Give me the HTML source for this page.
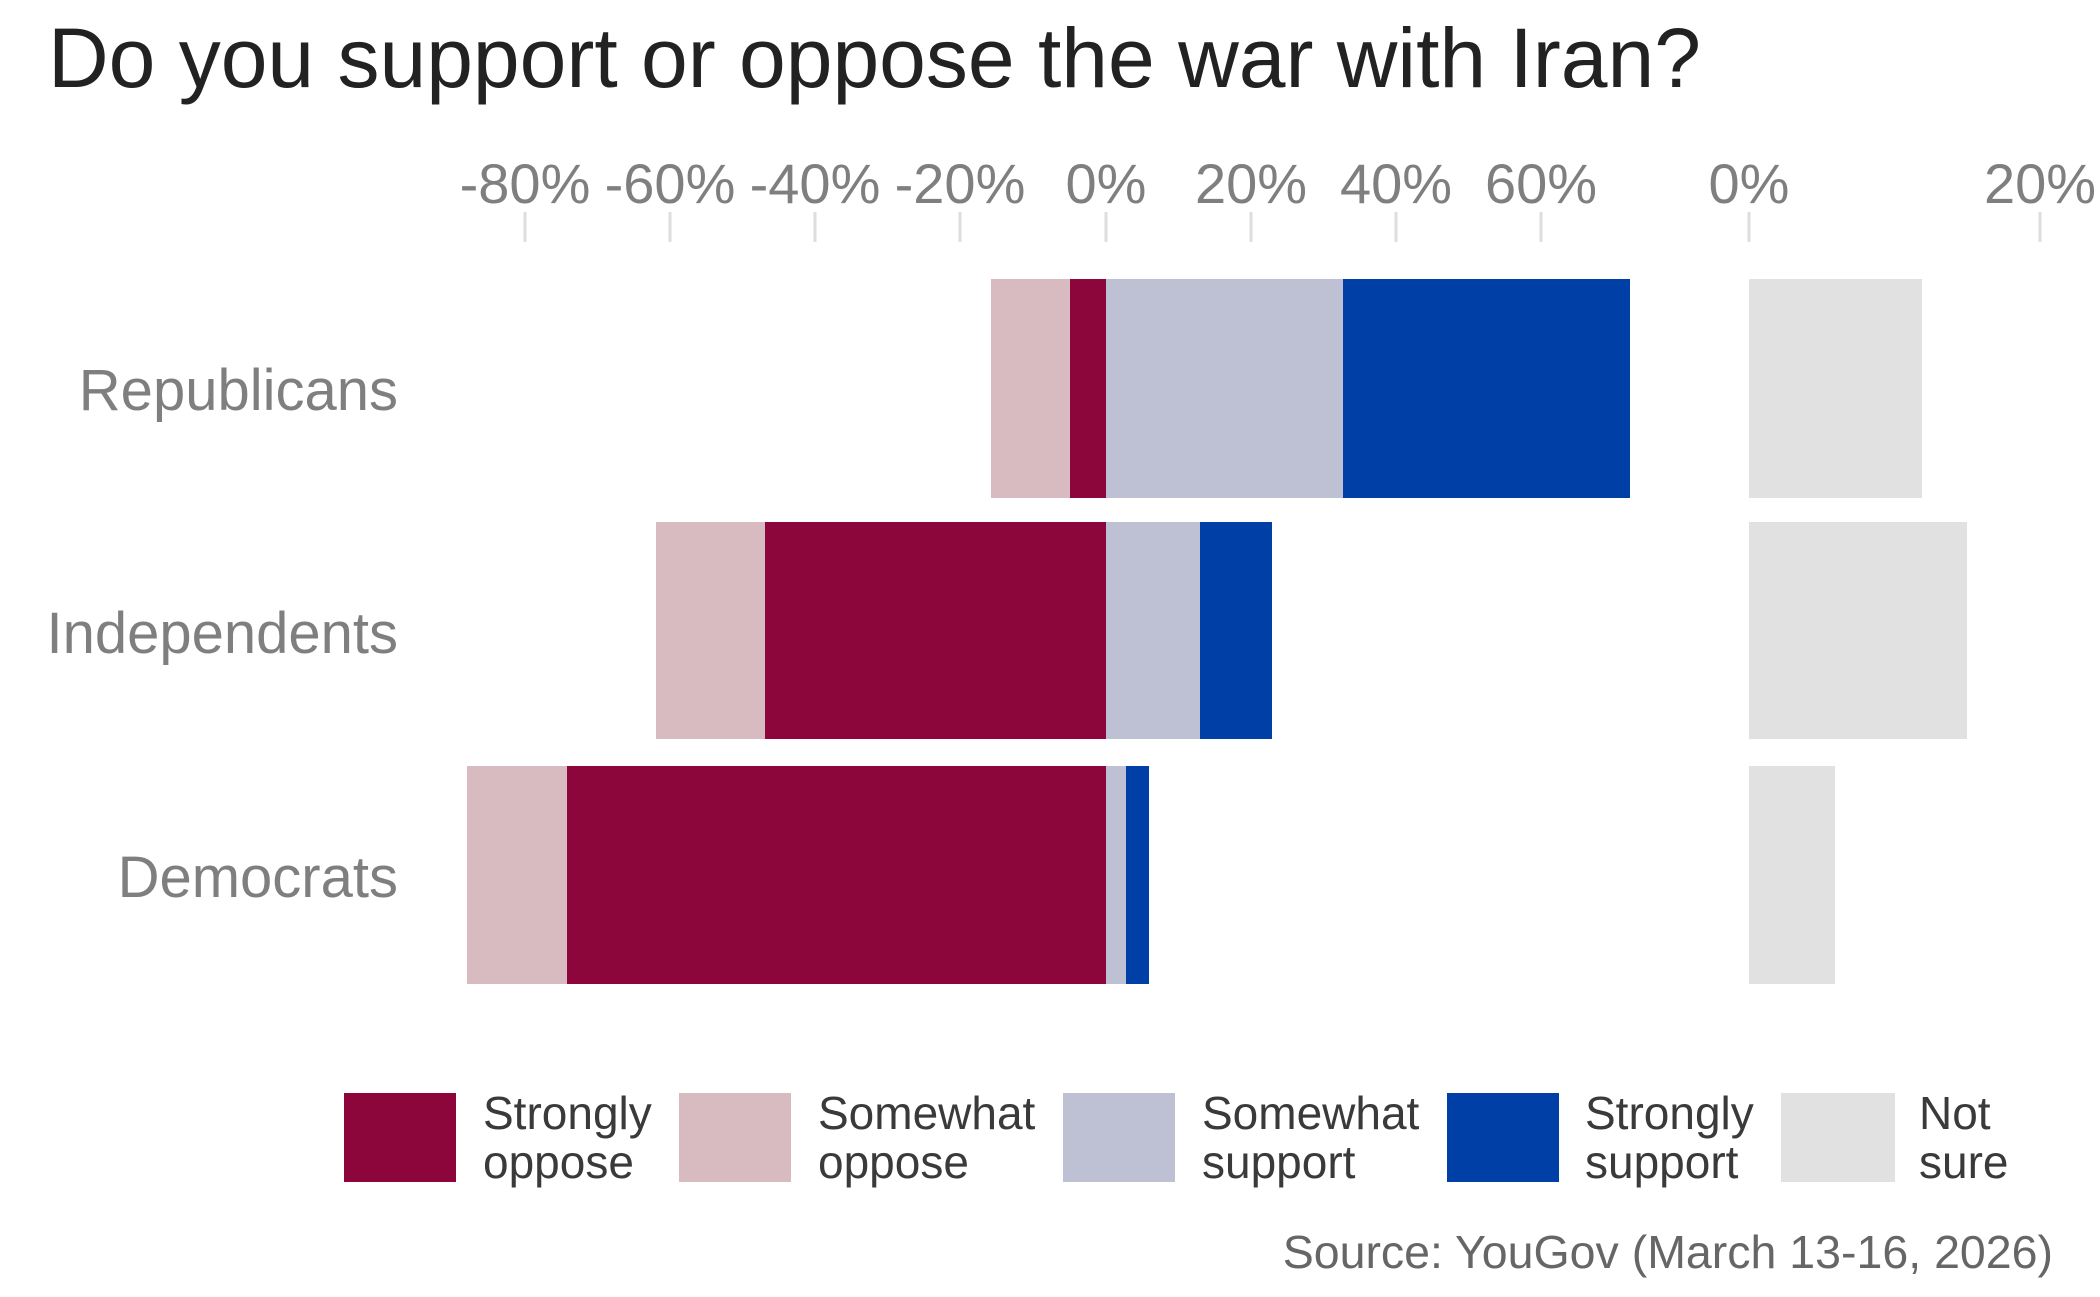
<!DOCTYPE html>
<html><head><meta charset="utf-8"><style>
html,body{margin:0;padding:0;background:#fff;}
svg{display:block;font-family:"Liberation Sans",Arial,sans-serif;}
</style></head><body>
<svg width="2100" height="1297" viewBox="0 0 2100 1297" xmlns="http://www.w3.org/2000/svg">
<text x="48" y="87" font-size="84" fill="#222">Do you support or oppose the war with Iran?</text>
<g fill="#7f7f7f" font-size="56" text-anchor="middle">
<text x="525" y="203">-80%</text><text x="670" y="203">-60%</text><text x="815" y="203">-40%</text><text x="960" y="203">-20%</text>
<text x="1106" y="203">0%</text><text x="1251" y="203">20%</text><text x="1396" y="203">40%</text><text x="1541" y="203">60%</text>
<text x="1749" y="203">0%</text><text x="2040" y="203">20%</text>
</g>
<g stroke="#dedede" stroke-width="3">
<line x1="525" y1="212" x2="525" y2="242"/><line x1="670" y1="212" x2="670" y2="242"/><line x1="815" y1="212" x2="815" y2="242"/><line x1="960" y1="212" x2="960" y2="242"/><line x1="1106" y1="212" x2="1106" y2="242"/><line x1="1251" y1="212" x2="1251" y2="242"/><line x1="1396" y1="212" x2="1396" y2="242"/><line x1="1541" y1="212" x2="1541" y2="242"/><line x1="1749" y1="212" x2="1749" y2="242"/><line x1="2040" y1="212" x2="2040" y2="242"/>
</g>
<g fill="#7f7f7f" font-size="58" text-anchor="end">
<text x="398" y="410">Republicans</text><text x="398" y="653">Independents</text><text x="398" y="897">Democrats</text>
</g>
<rect x="991" y="279" width="79" height="219" fill="#d8bbc0"/>
<rect x="1070" y="279" width="36" height="219" fill="#8c063b"/>
<rect x="1106" y="279" width="237" height="219" fill="#bec1d4"/>
<rect x="1343" y="279" width="287" height="219" fill="#0040a6"/>
<rect x="1749" y="279" width="173" height="219" fill="#e1e1e1"/>
<rect x="656" y="522" width="109" height="217" fill="#d8bbc0"/>
<rect x="765" y="522" width="341" height="217" fill="#8c063b"/>
<rect x="1106" y="522" width="94" height="217" fill="#bec1d4"/>
<rect x="1200" y="522" width="72" height="217" fill="#0040a6"/>
<rect x="1749" y="522" width="218" height="217" fill="#e1e1e1"/>
<rect x="467" y="766" width="100" height="218" fill="#d8bbc0"/>
<rect x="567" y="766" width="539" height="218" fill="#8c063b"/>
<rect x="1106" y="766" width="20" height="218" fill="#bec1d4"/>
<rect x="1126" y="766" width="23" height="218" fill="#0040a6"/>
<rect x="1749" y="766" width="86" height="218" fill="#e1e1e1"/>
<rect x="344" y="1093" width="112" height="89" fill="#8c063b"/>
<rect x="679" y="1093" width="112" height="89" fill="#d8bbc0"/>
<rect x="1063" y="1093" width="112" height="89" fill="#bec1d4"/>
<rect x="1447" y="1093" width="112" height="89" fill="#0040a6"/>
<rect x="1781" y="1093" width="114" height="89" fill="#e1e1e1"/>
<g fill="#3a3a3a" font-size="46">
<text x="483" y="1129">Strongly</text><text x="483" y="1178">oppose</text>
<text x="818" y="1129">Somewhat</text><text x="818" y="1178">oppose</text>
<text x="1202" y="1129">Somewhat</text><text x="1202" y="1178">support</text>
<text x="1585" y="1129">Strongly</text><text x="1585" y="1178">support</text>
<text x="1919" y="1129">Not</text><text x="1919" y="1178">sure</text>
</g>
<text x="2053" y="1268" font-size="46.5" fill="#666" text-anchor="end">Source: YouGov (March 13-16, 2026)</text>
</svg>
</body></html>
